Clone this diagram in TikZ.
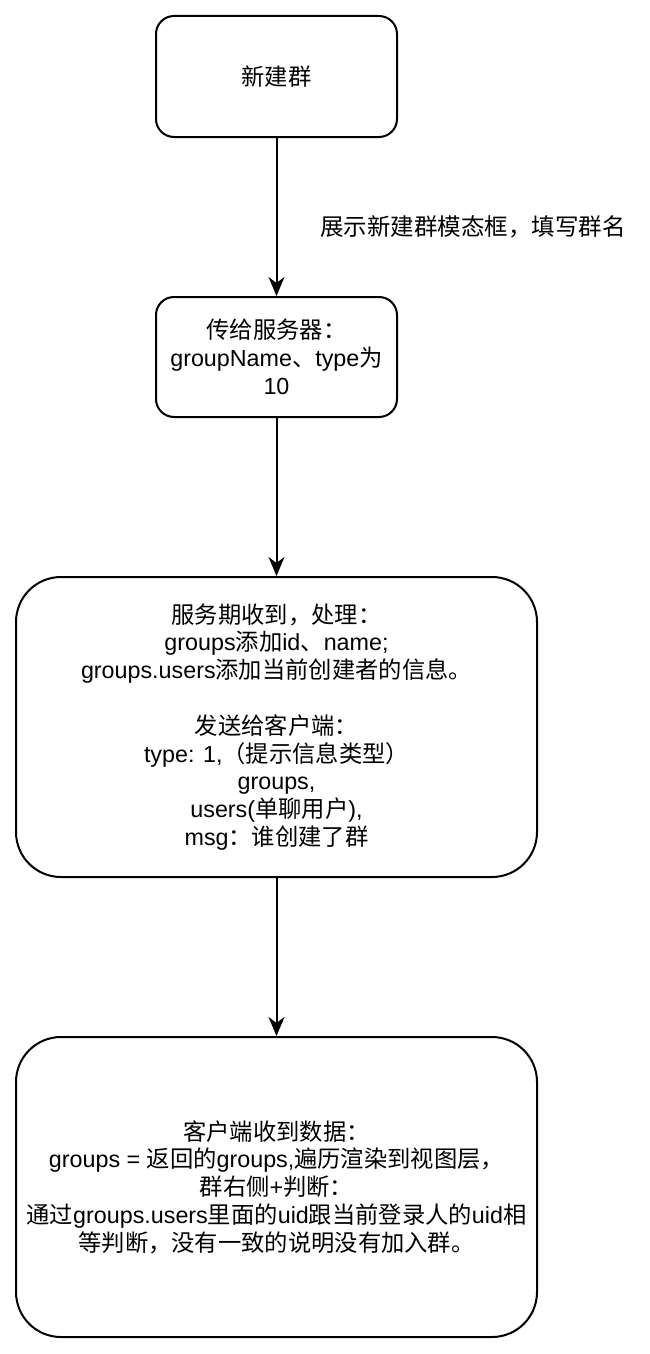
\documentclass[tikz,border=0pt]{standalone}
\usepackage{fontspec}
\setmainfont{Liberation Sans}
\newfontfamily\cjkfont{Noto Sans CJK SC}
\newcommand{\zh}[1]{{\cjkfont #1}}
\usetikzlibrary{arrows.meta}
\begin{document}
\begin{tikzpicture}[x=1pt,y=-1pt,
  roundbox/.style={draw=black, line width=2pt, rounded corners=18pt, align=center,
    inner sep=0pt, font=\fontsize{23.3}{27.8}\selectfont},
  bigroundbox/.style={roundbox, rounded corners=45pt},
  arrowline/.style={draw=black, line width=2pt, -{Stealth[length=19pt,width=16pt,inset=6pt]}},
  edgelabel/.style={font=\fontsize{23.5}{27.8}\selectfont, inner sep=0pt}]
\useasboundingbox (0,0) rectangle (649,1354);

\node[roundbox, minimum width=241pt, minimum height=121pt] (b1) at (276.5,76.5) {\zh{新建群}};

\node[roundbox, minimum width=241pt, minimum height=120pt] (b2) at (276.5,357)
  {\zh{传给服务器：}\\groupName\zh{、}type\zh{为}\\10};

\node[bigroundbox, minimum width=521pt, minimum height=300pt] (b3) at (276.5,727)
  {\zh{服务期收到，处理：}\\
   groups\zh{添加}id\zh{、}name;\\
   groups.users\zh{添加当前创建者的信息。}\\[27.8pt]
   \zh{发送给客户端：}\\
   type: 1,\zh{（提示信息类型）}\\
   groups,\\
   users(\zh{单聊用户}),\\
   msg\zh{：谁创建了群}};

\node[bigroundbox, minimum width=521pt, minimum height=300pt] (b4) at (276.5,1187)
  {\zh{客户端收到数据：}\\
   groups = \zh{返回的}groups,\zh{遍历渲染到视图层，}\\
   \zh{群右侧}+\zh{判断：}\\
   \zh{通过}groups.users\zh{里面的}uid\zh{跟当前登录人的}uid\zh{相}\\
   \zh{等判断，没有一致的说明没有加入群。}};

\path[arrowline] (b1) -- (b2);
\path[arrowline] (b2) -- (b3);
\path[arrowline] (b3) -- (b4);

\node[edgelabel, anchor=west] (lbl) at (320,227) {\zh{展示新建群模态框，填写群名}};
\end{tikzpicture}
\end{document}
